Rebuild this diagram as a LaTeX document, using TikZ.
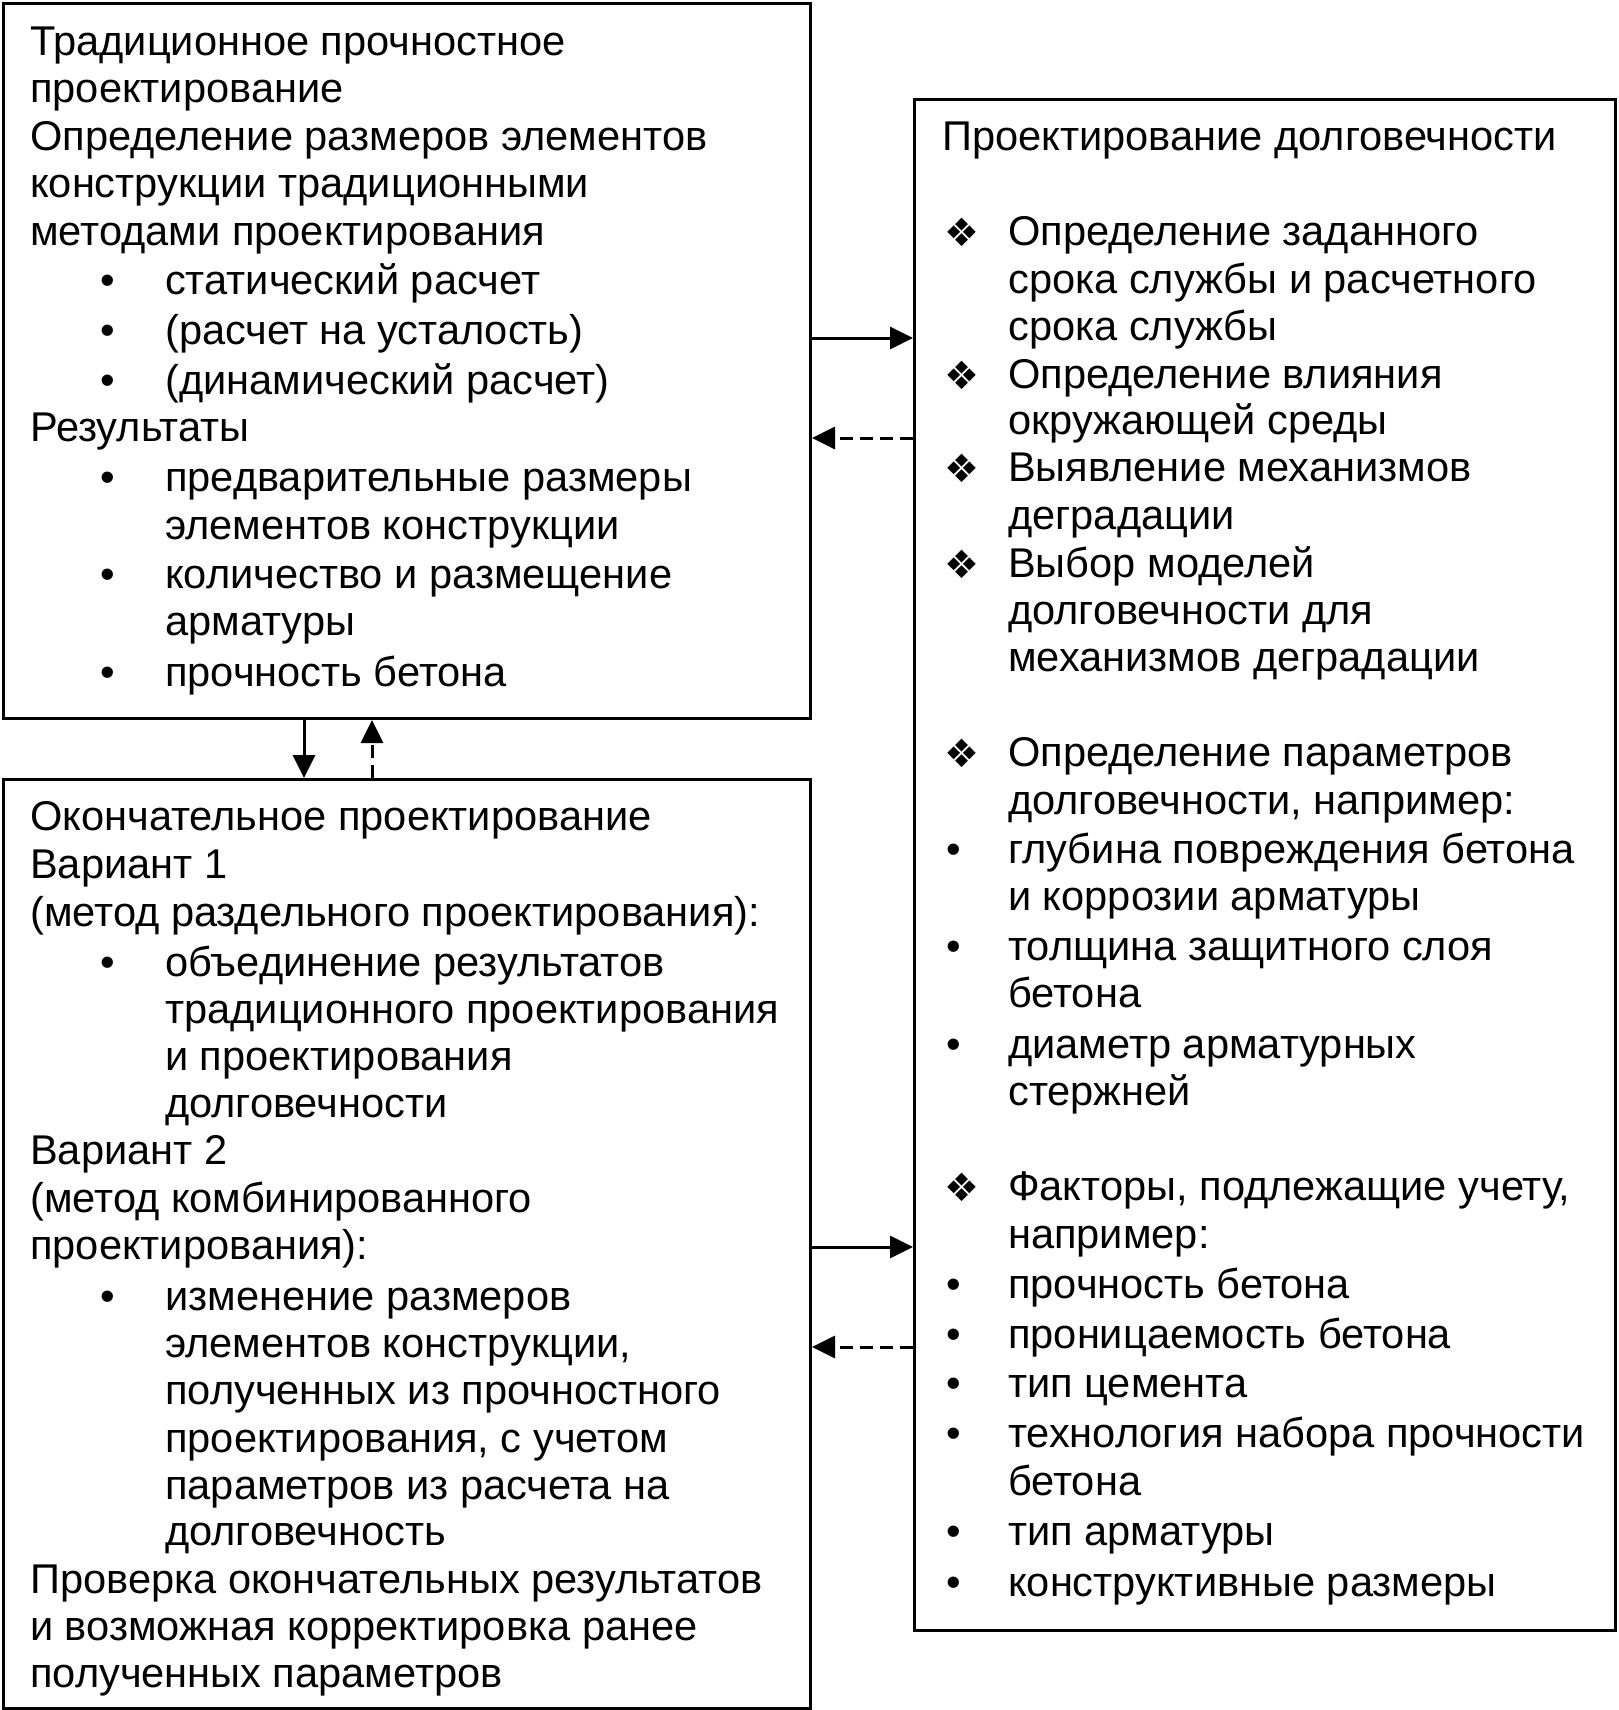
\documentclass[tikz,border=0pt]{standalone}
\usepackage{fontspec}
\setmainfont{Liberation Sans}
\newfontfamily\symfont{DejaVu Sans}
\usetikzlibrary{arrows.meta}
\newcommand\bul[1]{\makebox[65pt][l]{\textbullet}#1}
\newcommand\rbul[1]{\makebox[62pt][l]{\textbullet}#1}
\newcommand\dia[1]{\makebox[64pt][l]{\raisebox{-1pt}{\symfont\fontsize{39}{39}\selectfont ❖}}#1}
\begin{document}
\begin{tikzpicture}[x=1pt,y=-1pt,
  box/.style={draw=black, line width=3pt, anchor=north west, inner sep=0pt},
  txt/.style={anchor=base west, inner sep=0pt, font=\fontsize{41.6}{47.4}\selectfont},
  arr/.style={line width=3pt, -{Triangle[length=23pt,width=22pt]}},
  darr/.style={arr, dash pattern=on 13pt off 7pt}]
\useasboundingbox (0,0) rectangle (1618,1710);
\fill[white] (0,0) rectangle (1618,1710);
% boxes
\node[box, minimum width=807pt, minimum height=715pt] (tl) at (2,2) {};
\node[box, minimum width=807pt, minimum height=929pt] (bl) at (2,778) {};
\node[box, minimum width=701pt, minimum height=1531pt] (rb) at (913,98) {};
% top-left text
\node[txt] (t1) at (30,55.5) {Традиционное прочностное};
\node[txt] (t2) at (30,102.4) {проектирование};
\node[txt] (t3) at (30,150.4) {Определение размеров элементов};
\node[txt] (t4) at (30,197.3) {конструкции традиционными};
\node[txt] (t5) at (30,245.2) {методами проектирования};
\node[txt] (t6) at (100,294.3) {\bul{статический расчет}};
\node[txt] (t7) at (100,344.4) {\bul{(расчет на усталость)}};
\node[txt] (t8) at (100,394.6) {\bul{(динамический расчет)}};
\node[txt] (t9) at (30,441.5) {Результаты};
\node[txt] (t10) at (100,491.6) {\bul{предварительные размеры}};
\node[txt] (t11) at (165,539.6) {элементов конструкции};
\node[txt] (t12) at (100,588.7) {\bul{количество и размещение}};
\node[txt] (t13) at (165,635.5) {арматуры};
\node[txt] (t14) at (100,686.8) {\bul{прочность бетона}};
% bottom-left text
\node[txt] (b1) at (30,830.7) {Окончательное проектирование};
\node[txt] (b2) at (30,878.7) {Вариант 1};
\node[txt] (b3) at (30,926.6) {(метод раздельного проектирования):};
\node[txt] (b4) at (100,976.8) {\bul{объединение результатов}};
\node[txt] (b5) at (165,1023.7) {традиционного проектирования};
\node[txt] (b6) at (165,1070.6) {и проектирования};
\node[txt] (b7) at (165,1117.4) {долговечности};
\node[txt] (b8) at (30,1164.3) {Вариант 2};
\node[txt] (b9) at (30,1212.3) {(метод комбинированного};
\node[txt] (b10) at (30,1259.2) {проектирования):};
\node[txt] (b11) at (100,1310.4) {\bul{изменение размеров}};
\node[txt] (b12) at (165,1357.3) {элементов конструкции,};
\node[txt] (b13) at (165,1404.2) {полученных из прочностного};
\node[txt] (b14) at (165,1452.2) {проектирования, с учетом};
\node[txt] (b15) at (165,1499.1) {параметров из расчета на};
\node[txt] (b16) at (165,1545.9) {долговечность};
\node[txt] (b17) at (30,1593.9) {Проверка окончательных результатов};
\node[txt] (b18) at (30,1640.8) {и возможная корректировка ранее};
\node[txt] (b19) at (30,1687.7) {полученных параметров};
% right text
\node[txt] (r1) at (942,150.4) {Проектирование долговечности};
\node[txt] (r3) at (944,245.2) {\dia{Определение заданного}};
\node[txt] (r4) at (1008,293.2) {срока службы и расчетного};
\node[txt] (r5) at (1008,340.1) {срока службы};
\node[txt] (r6) at (944,388.1) {\dia{Определение влияния}};
\node[txt] (r7) at (1008,434.9) {окружающей среды};
\node[txt] (r8) at (944,481.8) {\dia{Выявление механизмов}};
\node[txt] (r9) at (1008,529.8) {деградации};
\node[txt] (r10) at (944,577.8) {\dia{Выбор моделей}};
\node[txt] (r11) at (1008,624.6) {долговечности для};
\node[txt] (r12) at (1008,671.5) {механизмов деградации};
\node[txt] (r14) at (944,766.4) {\dia{Определение параметров}};
\node[txt] (r15) at (1008,814.4) {долговечности, например:};
\node[txt] (r16) at (946,863.4) {\rbul{глубина повреждения бетона}};
\node[txt] (r17) at (1008,910.3) {и коррозии арматуры};
\node[txt] (r18) at (946,960.4) {\rbul{толщина защитного слоя}};
\node[txt] (r19) at (1008,1007.3) {бетона};
\node[txt] (r20) at (946,1058.6) {\rbul{диаметр арматурных}};
\node[txt] (r21) at (1008,1105.5) {стержней};
\node[txt] (r23) at (944,1200.3) {\dia{Факторы, подлежащие учету,}};
\node[txt] (r24) at (1008,1248.3) {например:};
\node[txt] (r25) at (946,1298.4) {\rbul{прочность бетона}};
\node[txt] (r26) at (946,1348.6) {\rbul{проницаемость бетона}};
\node[txt] (r27) at (946,1397.6) {\rbul{тип цемента}};
\node[txt] (r28) at (946,1447.8) {\rbul{технология набора прочности}};
\node[txt] (r29) at (1008,1495.8) {бетона};
\node[txt] (r30) at (946,1545.9) {\rbul{тип арматуры}};
\node[txt] (r31) at (946,1596.1) {\rbul{конструктивные размеры}};
% connectors
\draw[arr] (tl.north east |- 0,338) -- (rb.north west |- 0,338);
\draw[darr] (rb.north west |- 0,438) -- (tl.north east |- 0,438);
\draw[arr] (bl.north east |- 0,1247) -- (rb.north west |- 0,1247);
\draw[darr] (rb.north west |- 0,1347) -- (bl.north east |- 0,1347);
\draw[arr] (tl.south west -| 304,0) -- (bl.north west -| 304,0);
\draw[darr] (bl.north west -| 372,0) -- (tl.south west -| 372,0);
\end{tikzpicture}
\end{document}
